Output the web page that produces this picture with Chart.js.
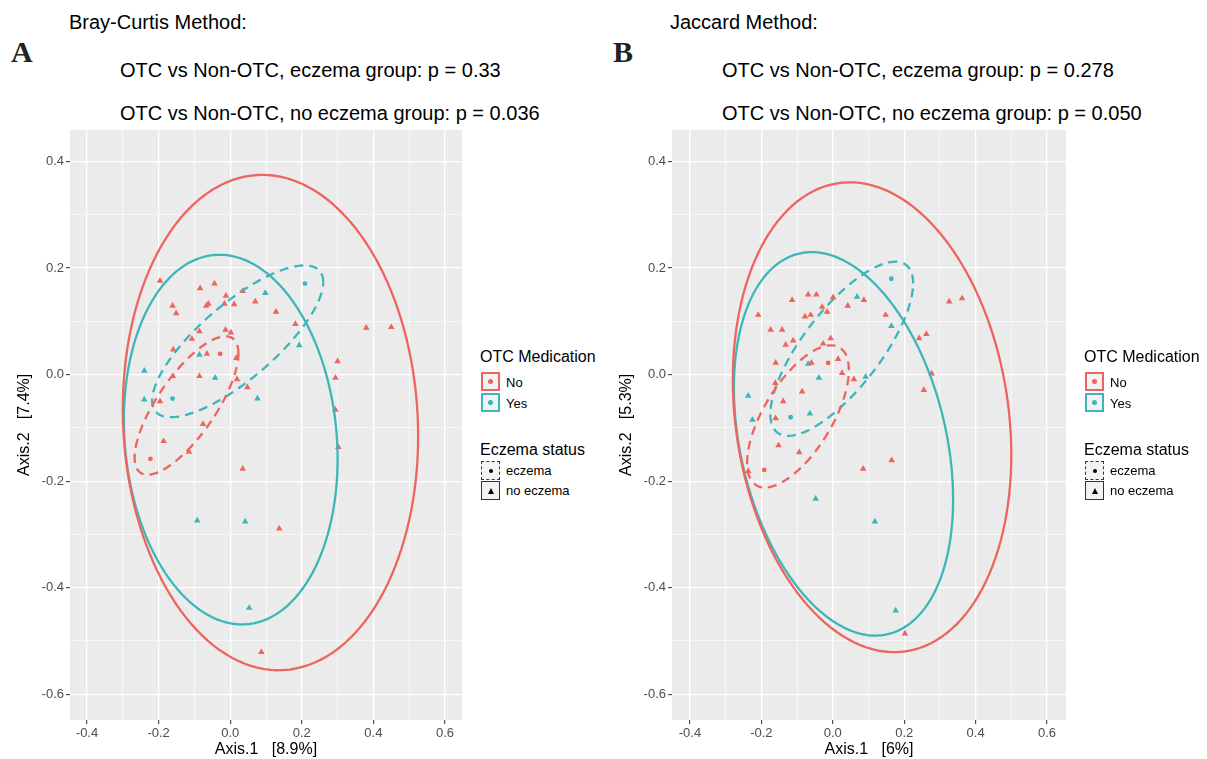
<!DOCTYPE html>
<html lang="en">
<head>
<meta charset="UTF-8">
<title>PCoA - OTC medication and eczema</title>
<script src="https://cdn.jsdelivr.net/npm/chart.js"></script>
<style>
    body {
        margin: 0;
        background: #ffffff;
        font-family: "Liberation Sans", Arial, sans-serif;
    }
    #page {
        position: relative;
        width: 1207px;
        height: 759px;
        overflow: hidden;
    }
    .txt {
        position: absolute;
        white-space: pre;
        color: #000;
        font-size: 20px;
        line-height: 1;
    }
    .letter {
        position: absolute;
        font-family: "Liberation Serif", "Times New Roman", serif;
        font-weight: bold;
        font-size: 30px;
        line-height: 1;
        color: #222;
    }
    canvas { position: absolute; }
    .legTitle {
        position: absolute;
        font-size: 16px;
        line-height: 1;
        white-space: pre;
    }
    .legLabel {
        position: absolute;
        font-size: 13px;
        line-height: 1;
        white-space: pre;
    }
    .key {
        position: absolute;
        width: 19px;
        height: 19px;
        box-sizing: border-box;
        background: #f2f2f2;
    }
    .dot {
        position: absolute;
        left: 50%;
        top: 50%;
        width: 5px;
        height: 5px;
        margin: -2.5px 0 0 -2.5px;
        border-radius: 50%;
    }
    .tri {
        position: absolute;
        left: 50%;
        top: 50%;
        width: 0;
        height: 0;
        margin: -3px 0 0 -3px;
        border-left: 3px solid transparent;
        border-right: 3px solid transparent;
        border-bottom: 6px solid #000;
    }
</style>
</head>
<body>
<div id="page">
    <div class="txt" style="left:69px; top:12px;">Bray-Curtis Method:</div>
    <div class="letter" style="left:11px; top:37px;">A</div>
    <div class="txt" style="left:120px; top:60px;">OTC vs Non-OTC, eczema group: p = 0.33</div>
    <div class="txt" style="left:120px; top:103px;">OTC vs Non-OTC, no eczema group: p = 0.036</div>

    <div class="txt" style="left:670px; top:12px;">Jaccard Method:</div>
    <div class="letter" style="left:613px; top:37px;">B</div>
    <div class="txt" style="left:722px; top:60px;">OTC vs Non-OTC, eczema group: p = 0.278</div>
    <div class="txt" style="left:722px; top:103px;">OTC vs Non-OTC, no eczema group: p = 0.050</div>

    <canvas id="chartA" width="470" height="639" style="left:0px; top:120px;"></canvas>
    <canvas id="chartB" width="607" height="639" style="left:600px; top:120px;"></canvas>
</div>

<script>
    const RED = '#EE645E';
    const TEAL = '#3DB6BA';

    // ---- Panel A: Bray-Curtis ----
    const aNoTriX = [-0.196, -0.084, -0.044, -0.012, 0.035, 0.070, -0.161, -0.151, -0.067, -0.061,
                     -0.016, 0.011, 0.128, 0.182, -0.086, -0.013, 0.002, -0.107, -0.159, -0.065,
                     0.017, -0.160, -0.086, 0.019, 0.048, 0.300, 0.294, 0.294, 0.302, -0.076,
                     -0.186, -0.115, 0.035, -0.196, 0.137, 0.087, 0.380, 0.450];
    const aNoTriY = [0.176, 0.162, 0.171, 0.148, 0.157, 0.137, 0.129, 0.115, 0.129, 0.133,
                     0.133, 0.132, 0.118, 0.095, 0.081, 0.084, 0.079, 0.067, 0.047, 0.039,
                     0.031, -0.003, -0.003, -0.009, -0.024, 0.025, -0.006, -0.066, -0.136, -0.093,
                     -0.125, -0.145, -0.177, -0.050, -0.289, -0.521, 0.088, 0.089];
    const aYesTriX = [0.098, 0.193, -0.086, -0.240, -0.042, -0.240, 0.076, -0.092, 0.042, 0.053];
    const aYesTriY = [0.153, 0.055, 0.037, 0.007, -0.006, -0.047, -0.045, -0.274, -0.276, -0.438];
    const aNoDotX = [-0.028, -0.223];
    const aNoDotY = [0.039, -0.158];
    const aYesDotX = [0.209, -0.161];
    const aYesDotY = [0.171, -0.045];

    // ellipses: [centre x, centre y, half width, half height, correlation]
    const aEllNo = [0.1125, -0.09, 0.4125, 0.465, -0.055];
    const aEllYes = [0.0015, -0.122, 0.2985, 0.347, -0.105];
    const aEllNoEcz = [-0.122, -0.058, 0.145, 0.13, 0.75];
    const aEllYesEcz = [0.021, 0.0625, 0.239, 0.1425, 0.78];

    // ---- Panel B: Jaccard ----
    const bNoTriX = [-0.209, -0.114, -0.069, -0.046, 0.001, -0.030, -0.016, 0.042, 0.087, -0.078,
                     -0.062, 0.148, -0.174, -0.142, -0.111, -0.132, -0.006, -0.027, -0.160, -0.060,
                     0.015, 0.026, 0.059, -0.161, -0.086, -0.139, -0.160, -0.152, -0.094, 0.085,
                     0.165, 0.242, 0.262, 0.277, 0.255, 0.326, 0.362, -0.237, 0.202];
    const bNoTriY = [0.112, 0.140, 0.150, 0.150, 0.145, 0.127, 0.118, 0.129, 0.140, 0.109,
                     0.112, 0.112, 0.084, 0.084, 0.064, 0.056, 0.068, 0.058, 0.022, 0.022,
                     0.029, 0.003, -0.009, -0.016, -0.032, -0.050, -0.082, -0.133, -0.146, -0.177,
                     -0.161, 0.068, 0.076, 0.002, -0.029, 0.137, 0.143, -0.181, -0.486];
    const bYesTriX = [0.068, 0.164, -0.069, -0.039, 0.092, -0.237, -0.225, -0.064, -0.048, 0.118, 0.176];
    const bYesTriY = [0.146, 0.091, 0.020, -0.006, -0.004, -0.040, -0.085, -0.073, -0.233, -0.276, -0.443];
    const bNoDotX = [-0.013, -0.192];
    const bNoDotY = [0.022, -0.179];
    const bYesDotX = [0.164, -0.118];
    const bYesDotY = [0.180, -0.080];

    const bEllNo = [0.11, -0.08, 0.39, 0.441, -0.16];
    const bEllYes = [0.03, -0.13, 0.307, 0.36, -0.29];
    const bEllNoEcz = [-0.0975, -0.0785, 0.1425, 0.1335, 0.65];
    const bEllYesEcz = [0.025, 0.0485, 0.2, 0.1635, 0.75];

    Chart.defaults.font.family = '"Liberation Sans", Arial, sans-serif';

    function zip(xs, ys) {
        return xs.map((x, i) => ({ x: x, y: ys[i] }));
    }

    // outline of a normal-data ellipse from its centre, half extents and correlation
    function ellipse(e) {
        const [cx, cy, xh, yh, rho] = e;
        const s = Math.sqrt(1 - rho * rho);
        const pts = [];
        for (let i = 0; i <= 144; i++) {
            const t = i / 144 * 2 * Math.PI;
            pts.push({ x: cx + xh * Math.cos(t), y: cy + yh * (rho * Math.cos(t) + s * Math.sin(t)) });
        }
        return pts;
    }

    function isMajor(v) {
        return Math.abs(Math.round(v * 10)) % 2 === 0;
    }
    function fmt(v) {
        const s = (Math.round(v * 10) / 10).toFixed(1);
        return s === '-0.0' ? '0.0' : s;
    }

    const panelBg = {
        id: 'panelBg',
        beforeDraw(chart) {
            const { ctx, chartArea: a } = chart;
            ctx.save();
            ctx.fillStyle = '#EBEBEB';
            ctx.fillRect(a.left, a.top, a.right - a.left, a.bottom - a.top);
            ctx.restore();
        }
    };

    function axis(min, max, title, titlePad, fitSize, horizontal) {
        return {
            type: 'linear',
            position: horizontal ? 'bottom' : 'left',
            min: min,
            max: max,
            border: { display: false },
            grid: {
                color: '#ffffff',
                lineWidth: c => isMajor(c.tick.value) ? 1.3 : 0.6,
                drawTicks: true,
                tickLength: 4,
                tickColor: c => isMajor(c.tick.value) ? '#333333' : 'rgba(0,0,0,0)',
                tickWidth: 1
            },
            ticks: {
                stepSize: 0.1,
                includeBounds: false,
                autoSkip: false,
                maxRotation: 0,
                padding: 2,
                color: '#4D4D4D',
                font: { size: 13 },
                callback: v => isMajor(v) ? fmt(v) : ''
            },
            title: {
                display: true,
                text: title,
                color: '#000',
                font: { size: 16 },
                padding: titlePad
            },
            afterFit: s => {
                if (horizontal) s.height = fitSize; else s.width = fitSize;
            }
        };
    }

    function makePanel(id, p) {
        // a tiny tension keeps Chart.js off its fast path, which would square off the ellipse ends
        const ring = { showLine: true, pointRadius: 0, borderWidth: 2.3, fill: false, tension: 0.0001 };
        const datasets = [
            { data: zip(p.noTriX, p.noTriY), pointStyle: 'triangle', pointRadius: 3.8, backgroundColor: RED, borderWidth: 0 },
            { data: zip(p.yesTriX, p.yesTriY), pointStyle: 'triangle', pointRadius: 3.8, backgroundColor: TEAL, borderWidth: 0 },
            { data: zip(p.noDotX, p.noDotY), pointStyle: 'circle', pointRadius: 2.4, backgroundColor: RED, borderWidth: 0 },
            { data: zip(p.yesDotX, p.yesDotY), pointStyle: 'circle', pointRadius: 2.4, backgroundColor: TEAL, borderWidth: 0 },
            Object.assign({ data: ellipse(p.ellNo), borderColor: RED }, ring),
            Object.assign({ data: ellipse(p.ellYes), borderColor: TEAL }, ring),
            Object.assign({ data: ellipse(p.ellNoEcz), borderColor: RED, borderDash: [9, 6] }, ring),
            Object.assign({ data: ellipse(p.ellYesEcz), borderColor: TEAL, borderDash: [9, 6] }, ring)
        ];
        datasets.forEach((d, i) => { d.order = i < 4 ? 2 : 1; });

        new Chart(document.getElementById(id), {
            type: 'scatter',
            data: { datasets: datasets },
            plugins: [panelBg],
            options: {
                responsive: false,
                animation: false,
                layout: { padding: { top: 5, right: p.padRight, left: 0, bottom: 0 } },
                scales: {
                    x: axis(p.xMin, p.xMax, p.xTitle, { top: 0, bottom: 0 }, 39, true),
                    y: axis(-0.6484, 0.4596, p.yTitle, { top: p.yTitlePad, bottom: 0 }, p.yWidth, false)
                },
                plugins: {
                    legend: { display: false },
                    tooltip: { enabled: false }
                }
            }
        });
    }

    makePanel('chartA', {
        noTriX: aNoTriX, noTriY: aNoTriY, yesTriX: aYesTriX, yesTriY: aYesTriY,
        noDotX: aNoDotX, noDotY: aNoDotY, yesDotX: aYesDotX, yesDotY: aYesDotY,
        ellNo: aEllNo, ellYes: aEllYes, ellNoEcz: aEllNoEcz, ellYesEcz: aEllYesEcz,
        xMin: -0.4475, xMax: 0.6475, xTitle: 'Axis.1   [8.9%]', yTitle: 'Axis.2   [7.4%]',
        yTitlePad: 15, yWidth: 70, padRight: 8
    });

    makePanel('chartB', {
        noTriX: bNoTriX, noTriY: bNoTriY, yesTriX: bYesTriX, yesTriY: bYesTriY,
        noDotX: bNoDotX, noDotY: bNoDotY, yesDotX: bYesDotX, yesDotY: bYesDotY,
        ellNo: bEllNo, ellYes: bEllYes, ellNoEcz: bEllNoEcz, ellYesEcz: bEllYesEcz,
        xMin: -0.4504, xMax: 0.6532, xTitle: 'Axis.1   [6%]', yTitle: 'Axis.2   [5.3%]',
        yTitlePad: 17, yWidth: 72, padRight: 141
    });

    // ggplot style legends (HTML)
    function legend(left) {
        const page = document.getElementById('page');
        const add = (cls, css, html) => {
            const el = document.createElement('div');
            el.className = cls;
            el.style.cssText = css;
            if (html) el.innerHTML = html;
            page.appendChild(el);
            return el;
        };
        add('legTitle', `left:${left}px; top:349px;`, 'OTC Medication');
        add('key', `left:${left + 1}px; top:372px; border:2px solid ${RED};`, `<div class="dot" style="background:${RED}"></div>`);
        add('key', `left:${left + 1}px; top:393px; border:2px solid ${TEAL};`, `<div class="dot" style="background:${TEAL}"></div>`);
        add('legLabel', `left:${left + 26}px; top:376px;`, 'No');
        add('legLabel', `left:${left + 26}px; top:397px;`, 'Yes');
        add('legTitle', `left:${left}px; top:442px;`, 'Eczema status');
        add('key', `left:${left + 1}px; top:461px; border:1.3px dashed #333;`, '<div class="dot" style="background:#000; width:4px; height:4px; margin:-2px 0 0 -2px;"></div>');
        add('key', `left:${left + 1}px; top:481px; border:1.3px solid #333;`, '<div class="tri"></div>');
        add('legLabel', `left:${left + 26}px; top:464px;`, 'eczema');
        add('legLabel', `left:${left + 26}px; top:484px;`, 'no eczema');
    }
    legend(480);
    legend(1084);
</script>
</body>
</html>
